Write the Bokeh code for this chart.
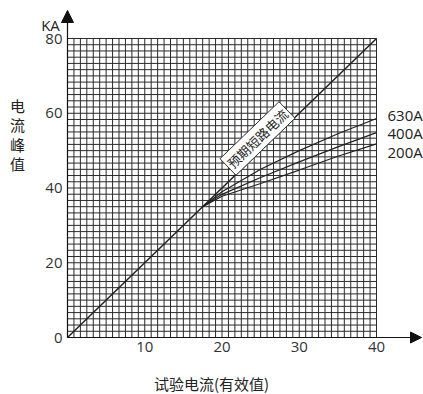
import numpy as np
from bokeh.plotting import figure
from bokeh.models import Range1d, Label, Arrow, NormalHead
from bokeh.core.properties import value
from bokeh.embed import file_html
from bokeh.resources import INLINE

# ---- data ----
x_ticks = [10, 20, 30, 40]
y_ticks = [0, 20, 40, 60, 80]
grid_cells = 48

diag_x = [0, 40]
diag_y = [0, 80]

curve_x = [17.5, 20, 25, 30, 35, 40]
curve_630 = [35.0, 39.0, 45.0, 50.0, 54.5, 58.6]
curve_400 = [35.0, 38.3, 42.8, 47.0, 51.0, 54.8]
curve_200 = [35.0, 37.8, 41.2, 44.8, 48.5, 51.8]

series_names = ["630A", "400A", "200A"]
series_label_y = [59.4, 54.6, 49.5]

CJK = "Noto Sans CJK SC"
NUM = "Open Sans"
INK = "#222222"

W, H = 423, 394
# plot area inside the canvas (pixels)
left, right, top, bottom = 67, 376, 38, 337
sx = (right - left) / 40.0
sy = (bottom - top) / 80.0
x0 = -left / sx
x1 = 40 + (W - right) / sx
y1 = 80 + top / sy
y0 = -(H - bottom) / sy

p = figure(width=W, height=H, min_border=0,
           x_range=Range1d(x0, x1), y_range=Range1d(y0, y1),
           output_backend="svg", toolbar_location=None)
p.outline_line_color = None
p.xgrid.visible = False
p.ygrid.visible = False
p.axis.visible = False
p.background_fill_color = "white"
p.border_fill_color = "white"

# grid
gx = np.linspace(0, 40, grid_cells + 1)
gy = np.linspace(0, 80, grid_cells + 1)
p.segment(x0=gx, y0=np.zeros_like(gx), x1=gx, y1=np.full_like(gx, 80),
          line_color="#2a2a2a", line_width=1)
p.segment(x0=np.zeros_like(gy), y0=gy, x1=np.full_like(gy, 40), y1=gy,
          line_color="#2a2a2a", line_width=1)

# lines
p.line(diag_x, diag_y, line_color=INK, line_width=1.5)
for ys in (curve_630, curve_400, curve_200):
    p.line(curve_x, ys, line_color=INK, line_width=1.2)

# tick labels
p.text(x=[-5 / sx] * len(y_ticks), y=y_ticks, text=[str(t) for t in y_ticks],
       text_font=value(NUM), text_font_size="15px", text_color="#333333",
       text_align="right", text_baseline="middle")
p.text(x=x_ticks, y=[-4 / sy] * len(x_ticks), text=[str(t) for t in x_ticks],
       text_font=value(NUM), text_font_size="15px", text_color="#333333",
       text_align="center", text_baseline="top")

# arrows (axis lines)
p.add_layout(Arrow(end=NormalHead(size=12, fill_color="#111111", line_color="#111111"),
                   x_start=0, y_start=0, x_end=0, y_end=(bottom - 10) / sy,
                   line_color="#111111", line_width=1.2))
p.add_layout(Arrow(end=NormalHead(size=11, fill_color="#111111", line_color="#111111"),
                   x_start=0, y_start=0, x_end=(421 - left) / sx, y_end=0,
                   line_color="#111111", line_width=1.2))

# texts
p.add_layout(Label(x=(50 - left) / sx, y=(bottom - 24) / sy, text="KA", text_font=NUM,
                   text_font_size="15px", text_color="#222222",
                   text_align="center", text_baseline="middle"))
p.add_layout(Label(x=(17 - left) / sx, y=(bottom - 134) / sy, text="电\n流\n峰\n值",
                   text_font=CJK, text_font_size="15px", text_line_height=0.93,
                   text_color="#222222", text_align="center", text_baseline="middle"))
p.add_layout(Label(x=(211 - left) / sx, y=(bottom - 383) / sy, text="试验电流(有效值)",
                   text_font=CJK, text_font_size="15px", text_color="#222222",
                   text_align="center", text_baseline="middle"))
for name, ly in zip(series_names, series_label_y):
    p.add_layout(Label(x=(387 - left) / sx, y=ly, text=name, text_font=NUM,
                       text_font_size="15px", text_color="#222222",
                       text_align="left", text_baseline="middle"))

p.add_layout(Label(x=(257 - left) / sx, y=(bottom - 138) / sy, text="预期短路电流",
                   text_font=CJK, text_font_size="13px", text_color="#222222",
                   text_align="center", text_baseline="middle",
                   angle=44, angle_units="deg",
                   background_fill_color="white", border_line_color="#333333",
                   border_line_width=1, padding=2))

open("out.html", "w").write(file_html(p, INLINE))
